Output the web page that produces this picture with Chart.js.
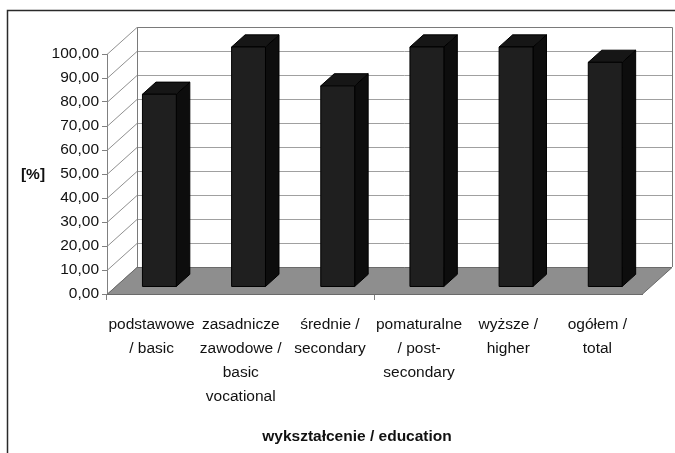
<!DOCTYPE html>
<html>
<head>
<meta charset="utf-8">
<script src="https://cdn.jsdelivr.net/npm/chart.js@4.4.1/dist/chart.umd.min.js"></script>
<style>
  html, body { margin: 0; padding: 0; background: #fff; }
  #wrap { width: 675px; height: 453px; }
</style>
</head>
<body>
<div id="wrap"><canvas id="c" width="675" height="453"></canvas></div>
<script>
// ── DATA ─────────────────────────────────────────────────────────────────────
const categories = [
  ['podstawowe', '/ basic'],
  ['zasadnicze', 'zawodowe /', 'basic', 'vocational'],
  ['średnie /', 'secondary'],
  ['pomaturalne', '/ post-', 'secondary'],
  ['wyższe /', 'higher'],
  ['ogółem /', 'total'],
];
const values = [80.3, 100, 83.8, 100, 100, 93.6];
const yTickLabels = ['0,00', '10,00', '20,00', '30,00', '40,00', '50,00',
                     '60,00', '70,00', '80,00', '90,00', '100,00'];
const xTitle = 'wykształcenie / education';
const yTitle = '[%]';

// ── STYLE ────────────────────────────────────────────────────────────────────
const FONT   = "'Liberation Sans', Arial, sans-serif";
const FSIZE  = 15.5;
const DEPTH  = { dx: 30, dy: -27 };     // back wall offset
const BAR_Z  = { front: 0.26, back: 0.71 };
const GRID_C = '#a0a0a0';
const EDGE_C = '#7a7a7a';

// ── 3D PLUGIN ────────────────────────────────────────────────────────────────
const frame3d = {
  id: 'frame3d',
  beforeDraw(chart) {
    const ctx = chart.ctx;
    ctx.save();
    ctx.fillStyle = '#fff';
    ctx.fillRect(0, 0, chart.width, chart.height);
    ctx.strokeStyle = '#2a2a2a';
    ctx.lineWidth = 1.5;
    ctx.beginPath();
    ctx.moveTo(7.5, chart.height + 5);
    ctx.lineTo(7.5, 10.5);
    ctx.lineTo(chart.width + 5, 10.5);
    ctx.stroke();
    ctx.restore();
  },
  beforeDatasetsDraw(chart) {
    const { ctx, chartArea: a, scales: { y } } = chart;
    const { dx, dy } = DEPTH;
    ctx.save();
    ctx.lineWidth = 1;

    // back wall gridlines + side wall diagonals
    y.ticks.forEach(t => {
      const py = Math.round(y.getPixelForValue(t.value)) + 0.5;
      ctx.strokeStyle = GRID_C;
      ctx.beginPath();
      ctx.moveTo(a.left + dx, py + dy);
      ctx.lineTo(a.right + dx, py + dy);
      ctx.stroke();
      ctx.strokeStyle = '#909090';
      ctx.beginPath();
      ctx.moveTo(a.left, py);
      ctx.lineTo(a.left + dx, py + dy);
      ctx.stroke();
    });

    // back wall frame
    ctx.strokeStyle = EDGE_C;
    ctx.beginPath();
    ctx.moveTo(a.left + dx + 0.5, a.bottom + dy);
    ctx.lineTo(a.left + dx + 0.5, a.top + dy + 0.5);
    ctx.lineTo(a.right + dx + 0.5, a.top + dy + 0.5);
    ctx.lineTo(a.right + dx + 0.5, a.bottom + dy);
    ctx.stroke();

    // floor
    ctx.fillStyle = '#8e8e8e';
    ctx.strokeStyle = '#6a6a6a';
    ctx.beginPath();
    ctx.moveTo(a.left, a.bottom + 0.5);
    ctx.lineTo(a.right, a.bottom + 0.5);
    ctx.lineTo(a.right + dx, a.bottom + dy + 0.5);
    ctx.lineTo(a.left + dx, a.bottom + dy + 0.5);
    ctx.closePath();
    ctx.fill();
    ctx.stroke();
    ctx.restore();
  },
  afterDatasetsDraw(chart) {
    const { ctx } = chart;
    const { dx, dy } = DEPTH;
    const meta = chart.getDatasetMeta(0);
    ctx.save();
    ctx.lineWidth = 1;
    ctx.strokeStyle = '#000';
    ctx.lineJoin = 'round';
    meta.data.forEach(bar => {
      const hw = bar.width / 2;
      const fx = dx * BAR_Z.front, fy = dy * BAR_Z.front;
      const bx = dx * BAR_Z.back,  by = dy * BAR_Z.back;
      const l = bar.x - hw + fx, r = bar.x + hw + fx;
      const t = bar.y + fy, b = bar.base + fy;
      const sx = bx - fx, sy = by - fy;

      // side
      ctx.fillStyle = '#0d0d0d';
      ctx.beginPath();
      ctx.moveTo(r, b); ctx.lineTo(r, t);
      ctx.lineTo(r + sx, t + sy); ctx.lineTo(r + sx, b + sy);
      ctx.closePath(); ctx.fill(); ctx.stroke();
      // top
      ctx.fillStyle = '#161616';
      ctx.beginPath();
      ctx.moveTo(l, t); ctx.lineTo(r, t);
      ctx.lineTo(r + sx, t + sy); ctx.lineTo(l + sx, t + sy);
      ctx.closePath(); ctx.fill(); ctx.stroke();
      // front
      ctx.fillStyle = '#1f1f1f';
      ctx.beginPath();
      ctx.rect(l, t, r - l, b - t);
      ctx.fill(); ctx.stroke();
    });
    ctx.restore();
  },
  afterDraw(chart) {
    const ctx = chart.ctx;
    ctx.save();
    ctx.fillStyle = '#111';
    ctx.textAlign = 'center';
    ctx.textBaseline = 'middle';
    ctx.font = 'bold ' + FSIZE + 'px ' + FONT;
    ctx.fillText(yTitle, 33, 175);
    ctx.fillText(xTitle, 357, 437);
    ctx.restore();
  }
};

// ── CHART ────────────────────────────────────────────────────────────────────
new Chart(document.getElementById('c'), {
  type: 'bar',
  data: {
    labels: categories,
    datasets: [{
      data: values,
      backgroundColor: 'rgba(0,0,0,0)',
      borderWidth: 0,
      barPercentage: 0.38,
      categoryPercentage: 1,
    }]
  },
  options: {
    responsive: false,
    animation: false,
    events: [],
    layout: { padding: { left: 0, top: 54, right: 33, bottom: 0 } },
    plugins: { legend: { display: false }, tooltip: { enabled: false }, title: { display: false } },
    scales: {
      x: {
        afterFit: s => { s.height = 159; },
        grid: {
          offset: true,
          drawOnChartArea: false,
          tickLength: 6,
          color: c => (c.index % 3 === 0 ? '#808080' : 'rgba(0,0,0,0)'),
        },
        border: { color: '#6a6a6a' },
        ticks: {
          autoSkip: false, maxRotation: 0, minRotation: 0,
          padding: 13, color: '#111',
          font: { family: FONT, size: FSIZE, lineHeight: 24 / FSIZE },
        },
      },
      y: {
        min: 0, max: 100,
        afterFit: s => { s.width = 107; },
        grid: { drawOnChartArea: false, tickLength: 5, color: '#808080' },
        border: { color: '#808080' },
        ticks: {
          stepSize: 10, autoSkip: false, padding: 3, color: '#111',
          font: { family: FONT, size: FSIZE },
          callback: (v, i) => yTickLabels[i],
        },
      },
    },
  },
  plugins: [frame3d],
});
</script>
</body>
</html>
